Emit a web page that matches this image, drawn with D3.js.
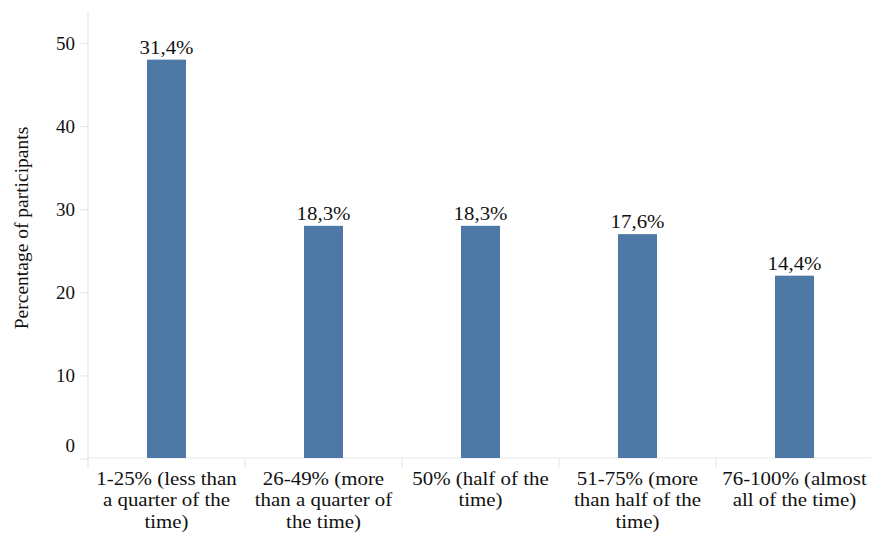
<!DOCTYPE html>
<html>
<head>
<meta charset="utf-8">
<script src="https://cdn.jsdelivr.net/npm/d3@7"></script>
<style>
  html, body { margin: 0; padding: 0; background: #fff; }
  svg { display: block; }
  text { font-family: "Liberation Serif", "Times New Roman", serif; fill: #111; }
</style>
</head>
<body>
<svg id="chart" width="871" height="536"></svg>
<script>
// Share of time spent, by answer option
const categories = [
  ["1-25% (less than", "a quarter of the", "time)"],
  ["26-49% (more", "than a quarter of", "the time)"],
  ["50% (half of the", "time)"],
  ["51-75% (more", "than half of the", "time)"],
  ["76-100% (almost", "all of the time)"]
];
// Number of participants per option
const counts = [48, 28, 28, 27, 22];
// Percentage labels printed over the bars
const percentLabels = ["31,4%", "18,3%", "18,3%", "17,6%", "14,4%"];
const yTicks = [0, 10, 20, 30, 40, 50];
const yTitle = "Percentage of participants";

const svg = d3.select("#chart");
const plotLeft = 88, plotRight = 873, plotTop = 12, plotBase = 458;
const sx = 1.1; // horizontal stretch of the lettering

const keys = categories.map((c, i) => i);
const x = d3.scaleBand().domain(keys).range([plotLeft, plotRight]).padding(0);
const y = d3.scaleLinear().domain([0, 50]).range([458.5, 43]);

const lineColor = "#e8e8e8";

// y axis line and ticks
svg.append("line")
  .attr("x1", plotLeft).attr("x2", plotLeft).attr("y1", plotTop).attr("y2", plotBase)
  .attr("stroke", lineColor).attr("stroke-width", 1.2);

const yAxis = d3.axisLeft(y).tickValues(yTicks).tickSize(8).tickPadding(5).tickFormat(d3.format("d"));
const gy = svg.append("g").attr("transform", `translate(${plotLeft},0)`).call(yAxis);
gy.select(".domain").remove();
gy.selectAll(".tick line").attr("stroke", lineColor).attr("stroke-width", 1.2);
gy.selectAll(".tick text")
  .attr("font-size", 19)
  .attr("dy", d => d === 0 ? "-0.35em" : "0.32em");

// x axis line with category separators
svg.append("line")
  .attr("x1", plotLeft).attr("x2", 871).attr("y1", plotBase).attr("y2", plotBase)
  .attr("stroke", lineColor).attr("stroke-width", 1.2);
svg.selectAll("line.sep")
  .data(keys)
  .join("line")
  .attr("class", "sep")
  .attr("x1", d => x(d)).attr("x2", d => x(d))
  .attr("y1", plotBase).attr("y2", plotBase + 10)
  .attr("stroke", lineColor).attr("stroke-width", 1.2);

// bars
const barW = 39;
svg.selectAll("rect.bar")
  .data(counts)
  .join("rect")
  .attr("class", "bar")
  .attr("x", (d, i) => x(i) + x.bandwidth() / 2 - barW / 2)
  .attr("y", d => y(d))
  .attr("width", barW)
  .attr("height", d => y(0) - y(d) - 0.5)
  .attr("fill", "#4e79a7");

// value labels
svg.selectAll("text.val")
  .data(counts)
  .join("text")
  .attr("class", "val")
  .attr("text-anchor", "middle")
  .attr("font-size", 19)
  .attr("transform", (d, i) => `translate(${x(i) + x.bandwidth() / 2},${y(d) - 6}) scale(${sx},1)`)
  .text((d, i) => percentLabels[i]);

// category labels
const cat = svg.selectAll("text.cat")
  .data(categories)
  .join("text")
  .attr("class", "cat")
  .attr("text-anchor", "middle")
  .attr("font-size", 19)
  .attr("transform", (d, i) => `translate(${x(i) + x.bandwidth() / 2},485) scale(${sx},1)`);
cat.selectAll("tspan")
  .data(d => d)
  .join("tspan")
  .attr("x", 0)
  .attr("y", (d, j) => j * 21.5)
  .text(d => d);

// y axis title
svg.append("text")
  .attr("text-anchor", "middle")
  .attr("font-size", 19.5)
  .attr("transform", "translate(28,228) rotate(-90)")
  .text(yTitle);
</script>
</body>
</html>
